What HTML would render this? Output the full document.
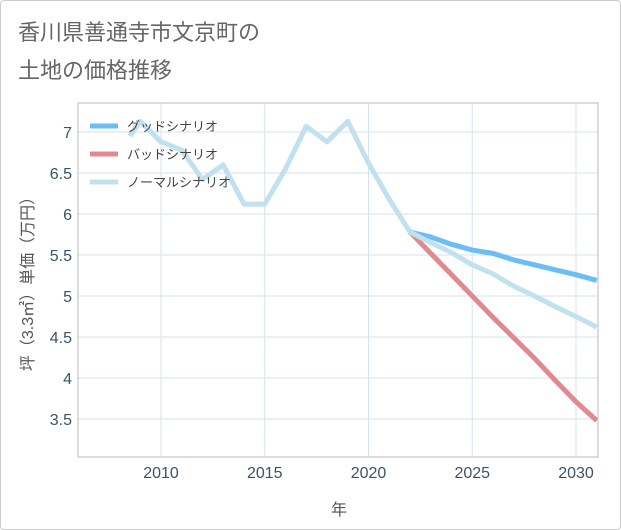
<!DOCTYPE html>
<html><head><meta charset="utf-8"><style>
body{margin:0;background:#fff;font-family:"Liberation Sans","Noto Sans CJK JP",sans-serif}
#wrap{position:relative;width:619px;height:528px;border:1px solid #ccc;border-radius:4px;background:#fff}
</style></head><body>
<div id="wrap">
<svg id="c" width="621" height="530" style="position:absolute;left:-1px;top:-1px">
<text x="18" y="40" font-size="22" fill="#666">香川県善通寺市文京町の</text>
<text x="18" y="78" font-size="22" fill="#666">土地の価格推移</text>
<g id="grid"></g><g id="lines"></g>
<rect x="78" y="103" width="520" height="354" fill="none" stroke="#bbb"/>
<text x="339" y="515" font-size="16" fill="#555" text-anchor="middle">年</text>
<text transform="translate(33,280) rotate(-90)" font-size="16" fill="#555" text-anchor="middle">坪（3.3㎡）単価（万円）</text>
<g id="legend"></g>
</svg></div>
<script>
const xTicks=[2010,2015,2020,2025,2030];
const yTicks=[3.5,4,4.5,5,5.5,6,6.5,7];
const histYears=[2008.5,2009,2010,2011,2012,2013,2014,2015,2016,2017,2018,2019,2020,2021,2022];
const histValues=[6.95,7.13,6.88,6.78,6.42,6.6,6.12,6.12,6.55,7.07,6.88,7.13,6.62,6.18,5.78];
const futYears=[2022,2023,2024,2025,2026,2027,2028,2029,2030,2031];
const goodValues=[5.78,5.72,5.63,5.56,5.52,5.44,5.38,5.32,5.26,5.19];
const badValues=[5.78,5.52,5.26,5.0,4.74,4.49,4.24,3.97,3.71,3.48];
const normalValues=[5.78,5.65,5.53,5.38,5.27,5.12,5.0,4.87,4.75,4.62];
const NS='http://www.w3.org/2000/svg';
const X=y=>161+(y-2010)*20.75, Y=v=>132+(7-v)*82;
function mk(t,a,p){const e=document.createElementNS(NS,t);for(const k in a)e.setAttribute(k,a[k]);p.appendChild(e);return e;}
const g=document.getElementById('grid');
xTicks.forEach(t=>{const l=mk('line',{x1:X(t),x2:X(t),y1:103,y2:457,stroke:'#d5e3ee'},g);


const tx=mk('text',{x:X(t),y:478,'font-size':16,fill:'#3d5266','text-anchor':'middle'},g);tx.textContent=t;

});
yTicks.forEach(t=>{const l=mk('line',{x1:78,x2:598,y1:Y(t),y2:Y(t),stroke:'#d5e3ee'},g);


const tx=mk('text',{x:72,y:Y(t)+6,'font-size':16,fill:'#3d5266','text-anchor':'end'},g);tx.textContent=t;

});
const L=document.getElementById('lines');
function line(xs,vs,c,name){const p=mk('polyline',{points:xs.map((x,i)=>X(x)+','+Y(vs[i])).join(' '),fill:'none',stroke:c,'stroke-width':5,'stroke-linejoin':'round'},L);

}
line(histYears,histValues,'#c1e1ee','history-line');
line(futYears,goodValues,'#6bbef5','good-scenario-line');
line(futYears,badValues,'#e08a90','bad-scenario-line');
line(futYears,normalValues,'#c1e1ee','normal-scenario-line');
const lg=document.getElementById('legend');
[['グッドシナリオ','#6bbef5'],['バッドシナリオ','#e08a90'],['ノーマルシナリオ','#c1e1ee']].forEach((d,i)=>{
const y=126+i*28;
const r=mk('line',{x1:90,x2:118,y1:y,y2:y,stroke:d[1],'stroke-width':5},lg);


const t=mk('text',{x:127,y:y+5,'font-size':13,fill:'#444'},lg);t.textContent=d[0];

});
</script></body></html>
